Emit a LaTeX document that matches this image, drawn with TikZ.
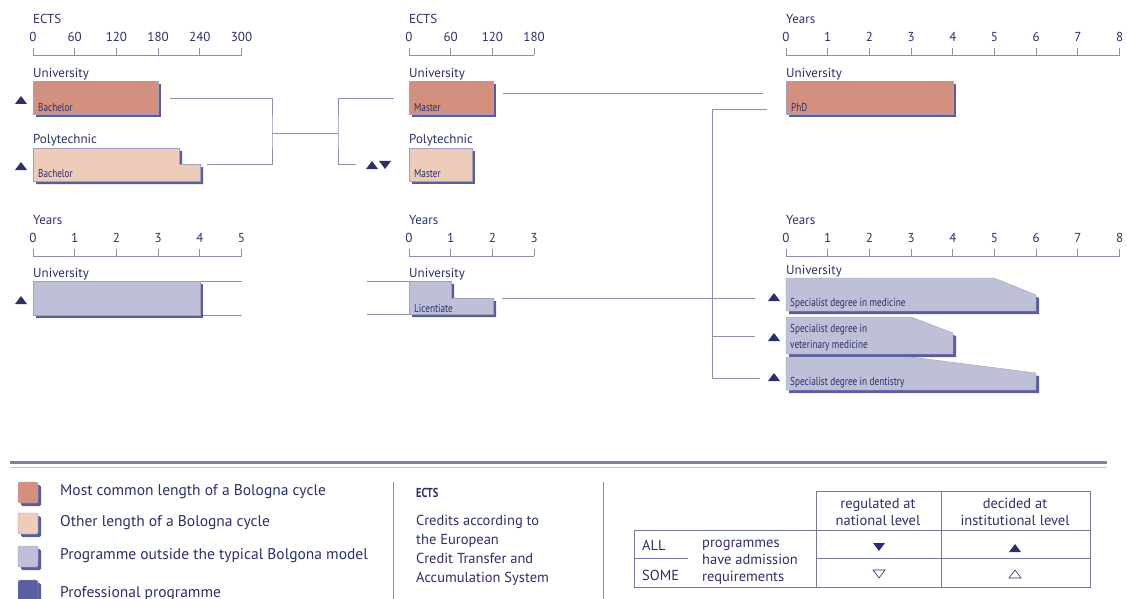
\documentclass[tikz,border=0pt]{standalone}
\usepackage{fontspec}
\setmainfont{PT Sans}
\newfontfamily\condfont[FakeStretch=0.8]{PT Sans}
\usepackage{tikz}
\usetikzlibrary{calc,positioning,shadows}

\definecolor{navy}{HTML}{2B2F6B}
\definecolor{shadowblue}{HTML}{2F3485}
\definecolor{unicol}{HTML}{D4907F}
\definecolor{polycol}{HTML}{EDCCB9}
\definecolor{outcol}{HTML}{BEC0D7}
\definecolor{profcol}{HTML}{5B5E9F}
\definecolor{linecol}{HTML}{8C8FAE}

\tikzset{
  axtitle/.style={text=navy, inner sep=0pt, anchor=base west, font=\fontsize{13}{15}\selectfont},
  num/.style={text=navy, inner sep=0pt, anchor=base, font=\fontsize{13}{15}\selectfont},
  axis/.style={draw=linecol, line width=0.9pt},
  inst/.style={text=navy, inner sep=0pt, anchor=base west, font=\fontsize{13}{15}\selectfont},
  bar/.style={draw=navy!45, line width=0.4pt,
    drop shadow={shadow xshift=3pt, shadow yshift=-3pt, fill=shadowblue, opacity=0.8}},
  barlabel/.style={text=navy, inner sep=0pt, anchor=base west, font=\condfont\fontsize{11.5}{12.5}\selectfont},
  conn/.style={draw=linecol, line width=0.9pt},
  legtext/.style={text=navy, inner sep=0pt, anchor=base west, font=\fontsize{15.5}{18}\selectfont},
  tabtext/.style={text=navy, inner sep=0pt, anchor=base west, font=\fontsize{14.5}{17}\selectfont},
  tabrule/.style={draw=navy!65, line width=0.8pt},
  uptri/.pic={\fill[navy] (-6,4) -- (6,4) -- (0,-4) -- cycle;},
  downtri/.pic={\fill[navy] (-6,-4) -- (6,-4) -- (0,4) -- cycle;},
  upopen/.pic={\draw[navy, line width=0.6pt, line join=miter] (-6,4) -- (6,4) -- (0,-4) -- cycle;},
  downopen/.pic={\draw[navy, line width=0.6pt, line join=miter] (-6,-4) -- (6,-4) -- (0,4) -- cycle;}
}

\begin{document}
\begin{tikzpicture}[x=1pt, y=-1pt]
\useasboundingbox (0,0) rectangle (1127,599);

% -------------------------------------------------------
% 1. Scales (ECTS / years, 42 units per 60 ECTS or per year)
% -------------------------------------------------------
\def\unit{41.7}
% first cycle
\node[axtitle] (ectsA) at (33,24) {ECTS};
\draw[axis] (33,55) -- (33+5*\unit,55);
\foreach \k/\v in {0/0,1/60,2/120,3/180,4/240,5/300} {
  \draw[axis] (33+\k*\unit,48) -- (33+\k*\unit,55);
  \node[num] (ectsA\k) at (33+\k*\unit,42) {\v};
}
% second cycle
\node[axtitle] (ectsB) at (409,24) {ECTS};
\draw[axis] (409,55) -- (409+3*\unit,55);
\foreach \k/\v in {0/0,1/60,2/120,3/180} {
  \draw[axis] (409+\k*\unit,48) -- (409+\k*\unit,55);
  \node[num] (ectsB\k) at (409+\k*\unit,42) {\v};
}
% third cycle
\node[axtitle] (yrsC) at (786,24) {Years};
\draw[axis] (786,55) -- (786+8*\unit,55);
\foreach \k in {0,...,8} {
  \draw[axis] (786+\k*\unit,48) -- (786+\k*\unit,55);
  \node[num] (yrsC\k) at (786+\k*\unit,42) {\k};
}
% lower row
\node[axtitle] (yrsD) at (33,224) {Years};
\draw[axis] (33,256) -- (33+5*\unit,256);
\foreach \k in {0,...,5} {
  \draw[axis] (33+\k*\unit,249) -- (33+\k*\unit,256);
  \node[num] (yrsD\k) at (33+\k*\unit,242) {\k};
}
\node[axtitle] (yrsE) at (409,224) {Years};
\draw[axis] (409,256) -- (409+3*\unit,256);
\foreach \k in {0,...,3} {
  \draw[axis] (409+\k*\unit,249) -- (409+\k*\unit,256);
  \node[num] (yrsE\k) at (409+\k*\unit,242) {\k};
}
\node[axtitle] (yrsF) at (786,224) {Years};
\draw[axis] (786,256) -- (786+8*\unit,256);
\foreach \k in {0,...,8} {
  \draw[axis] (786+\k*\unit,249) -- (786+\k*\unit,256);
  \node[num] (yrsF\k) at (786+\k*\unit,242) {\k};
}

% -------------------------------------------------------
% 2. Connectors (drawn first, bars on top)
% -------------------------------------------------------
\coordinate (bachU) at (170,98);
\coordinate (bachP) at (207,164);
\coordinate (joinA) at (272,133);
\coordinate (joinB) at (338,133);
\coordinate (mastU) at (394,98);
\coordinate (mastP) at (356,164);
\coordinate (mastR) at (503,93);
\coordinate (phdA)  at (763,93);
\coordinate (phdB)  at (767,109);
\coordinate (treeBot) at (712,378);
\coordinate (licR)  at (502,298);
\coordinate (medL)  at (755,298);
\coordinate (vetL)  at (755,336);
\coordinate (dentL) at (760,378);
\coordinate (outT)  at (200,281);
\coordinate (outTe) at (242,281);
\coordinate (outB)  at (200,315);
\coordinate (outBe) at (242,315);
\coordinate (licT)  at (367,281);
\coordinate (licTe) at (409,281);
\coordinate (licB)  at (367,314);
\coordinate (licBe) at (409,314);

\draw[conn] (bachU) -| (joinA) |- (bachP);
\draw[conn] (joinA) -- (joinB);
\draw[conn] (mastU) -| (joinB) |- (mastP);
\draw[conn] (mastR) -- (phdA);
\draw[conn] (phdB) -| (treeBot) -- (dentL);
\draw[conn] (vetL) -- (vetL -| treeBot);
\draw[conn] (licR) -- (medL);
\draw[conn] (outT) -- (outTe);
\draw[conn] (outB) -- (outBe);
\draw[conn] (licT) -- (licTe);
\draw[conn] (licB) -- (licBe);

% -------------------------------------------------------
% 3. Bars
% -------------------------------------------------------
% first cycle
\node[inst] (uniA) at (33,78) {University};
\path[bar, fill=unicol] (33,81) rectangle (158,114);
\node[barlabel] (bachUlab) at (38,112) {Bachelor};
\node[inst] (polyA) at (33,143) {Polytechnic};
\path[bar, fill=polycol] (33,148) -- (179,148) -- (179,164) -- (200,164) -- (200,181) -- (33,181) -- cycle;
\node[barlabel] (bachPlab) at (38,178) {Bachelor};

% second cycle
\node[inst] (uniB) at (409,78) {University};
\path[bar, fill=unicol] (409,81) rectangle (493,114);
\node[barlabel] (mastUlab) at (414,112) {Master};
\node[inst] (polyB) at (409,143) {Polytechnic};
\path[bar, fill=polycol] (409,148) rectangle (472,181);
\node[barlabel] (mastPlab) at (414,178) {Master};

% third cycle
\node[inst] (uniC) at (786,78) {University};
\path[bar, fill=unicol] (786,81) rectangle (953,114);
\node[barlabel] (phdlab) at (791,112) {PhD};

% outside the model
\node[inst] (uniD) at (33,277) {University};
\path[bar, fill=outcol] (33,281) rectangle (200,315);
\node[inst] (uniE) at (409,277) {University};
\path[bar, fill=outcol] (409,281) -- (451,281) -- (451,298) -- (493,298) -- (493,314) -- (409,314) -- cycle;
\node[barlabel] (liclab) at (414,312) {Licentiate};

% specialist degrees
\node[inst] (uniF) at (786,274) {University};
\path[bar, fill=outcol] (786,278) -- (994,278) -- (1036,295) -- (1036,311) -- (786,311) -- cycle;
\node[barlabel] (medlab) at (790,306) {Specialist degree in medicine};
\path[bar, fill=outcol] (786,317) -- (911,317) -- (953,333) -- (953,354) -- (786,354) -- cycle;
\node[barlabel, align=left, font=\condfont\fontsize{11.5}{16}\selectfont] (vetlab) at (790,348) {Specialist degree in\\veterinary medicine};
\path[bar, fill=outcol] (786,357) -- (911,357) -- (1036,373) -- (1036,390) -- (786,390) -- cycle;
\node[barlabel] (dentlab) at (790,385) {Specialist degree in dentistry};

% -------------------------------------------------------
% 4. Admission marks
% -------------------------------------------------------
\pic (mA) at (21,100) {uptri};
\pic (mB) at (21,166) {uptri};
\pic (mC) at (372,165) {uptri};
\pic (mD) at (385,165) {downtri};
\pic (mE) at (21,300) {uptri};
\pic (mF) at (774,297) {uptri};
\pic (mG) at (774,337) {uptri};
\pic (mH) at (774,377) {uptri};

% -------------------------------------------------------
% 5. Legend
% -------------------------------------------------------
\draw[line width=3pt, draw=linecol!85!navy] (10,462) -- (1107,462);
\draw[line width=1pt, draw=linecol!55] (10,467) -- (1107,467);

\foreach \c/\yy/\n in {unicol/482/1, polycol/513/2, outcol/546/3, profcol/580/4}
  \path[bar, fill=\c, rounded corners=1.5pt] (18,\yy) rectangle (38,\yy+21);
\node[legtext] (legA) at (60,495) {Most common length of a Bologna cycle};
\node[legtext] (legB) at (60,526) {Other length of a Bologna cycle};
\node[legtext] (legC) at (60,559) {Programme outside the typical Bolgona model};
\node[legtext] (legD) at (60,597) {Professional programme};

\draw[axis] (393,482) -- (393,599);
\draw[axis] (603,482) -- (603,599);

\node[legtext, font=\condfont\bfseries\fontsize{13}{15}\selectfont] (ectsKey) at (416,497) {ECTS};
\node[legtext, font=\fontsize{14.5}{19}\selectfont, align=left] (ectsDef) at (416,582)
  {Credits according to\\the European\\Credit Transfer and\\Accumulation System};

% admission table
\draw[tabrule] (816,530) -- (816,491) -- (1090,491) -- (1090,587) -- (634,587) -- (634,530) -- (1090,530);
\draw[tabrule] (816,530) -- (816,587);
\draw[tabrule] (941,491) -- (941,587);
\draw[tabrule] (816,558) -- (1090,558);
\draw[tabrule] (634,558) -- (688,558);
\node[tabtext, anchor=base, align=center] (natHead) at (878,525) {regulated at\\national level};
\node[tabtext, anchor=base, align=center] (instHead) at (1015,525) {decided at\\institutional level};
\node[tabtext] (allRow) at (642,550) {ALL};
\node[tabtext] (someRow) at (642,580) {SOME};
\node[tabtext, align=left] (progTxt) at (702,581) {programmes\\have admission\\requirements};
\pic (tA) at (879,547) {downtri};
\pic (tB) at (1015,548) {uptri};
\pic (tC) at (879,574) {downopen};
\pic (tD) at (1015,574) {upopen};

\end{tikzpicture}
\end{document}
